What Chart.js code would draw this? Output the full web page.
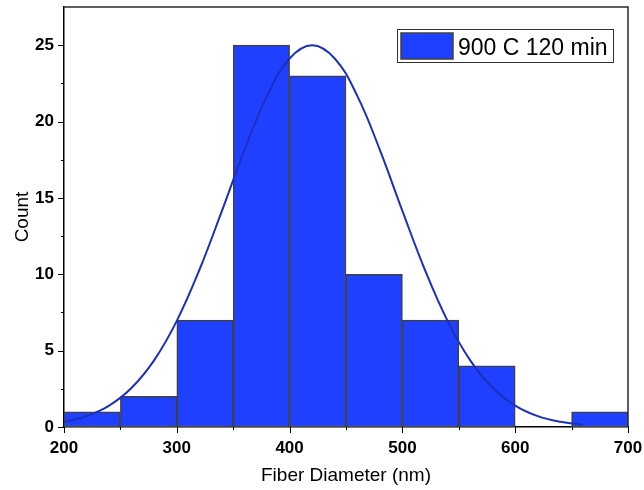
<!DOCTYPE html>
<html>
<head>
<meta charset="utf-8">
<title>Fiber Diameter Histogram</title>
<script src="https://cdn.jsdelivr.net/npm/chart.js@4/dist/chart.umd.min.js"></script>
<style>
  html, body { margin: 0; padding: 0; background: #fff; }
  #c { display: block; }
</style>
</head>
<body>
<canvas id="c" width="644" height="490"></canvas>
<script>
// Histogram bins (centre of each 50 nm bin) and counts
const binCenters = [225, 275, 325, 375, 425, 475, 525, 575, 625, 675];
const binCounts  = [1, 2, 7, 25, 23, 10, 7, 4, 0, 1];

// Normal distribution fit curve, sampled values
const fitX = [200, 220, 240, 260, 280, 300, 320, 340, 360, 380, 400, 420,
              440, 460, 480, 500, 520, 540, 560, 580, 600, 620, 640, 660];
const fitY = [0.34, 0.71, 1.40, 2.57, 4.38, 6.95, 10.28, 14.15, 18.15, 21.68, 24.13, 25.0,
              24.13, 21.68, 18.15, 14.15, 10.28, 6.95, 4.38, 2.57, 1.40, 0.71, 0.34, 0.15];

// Axis tick labels
const xTickValues = [200, 300, 400, 500, 600, 700];
const yTickValues = [0, 5, 10, 15, 20, 25];

const seriesLabel = '900 C 120 min';
const xTitle = 'Fiber Diameter (nm)';
const yTitle = 'Count';

const BAR_FILL = '#2040ff';
const BAR_EDGE = '#404040';
const CURVE = '#1b30bd';
const TICK_FONT = { family: '"Liberation Sans", Arial, sans-serif', size: 17, weight: 'bold' };
const TITLE_FONT = { family: '"Liberation Sans", Arial, sans-serif', size: 19, weight: 'normal' };

// Frame, major/minor tick marks and the in-plot legend
const decorations = {
  id: 'decorations',
  afterDraw(chart) {
    const ctx = chart.ctx;
    const a = chart.chartArea;
    const xs = chart.scales.x, ys = chart.scales.y;
    ctx.save();
    // top & right frame lines
    ctx.strokeStyle = '#2a2a2a';
    ctx.lineWidth = 1.5;
    ctx.beginPath();
    ctx.moveTo(a.left, a.top);
    ctx.lineTo(a.right, a.top);
    ctx.lineTo(a.right, a.bottom);
    ctx.stroke();

    // tick marks
    ctx.strokeStyle = '#000';
    ctx.lineWidth = 1;
    ctx.beginPath();
    for (let v = xs.min; v <= xs.max + 1e-9; v += 50) {
      const px = Math.round(xs.getPixelForValue(v)) + 0.5;
      const len = (Math.round(v) % 100 === 0) ? 6 : 3;
      ctx.moveTo(px, a.bottom);
      ctx.lineTo(px, a.bottom + len);
    }
    for (let v = 0; v <= 25 + 1e-9; v += 2.5) {
      const py = Math.round(ys.getPixelForValue(v)) + 0.5;
      const len = (Math.abs(v % 5) < 1e-9) ? 6 : 3;
      ctx.moveTo(a.left, py);
      ctx.lineTo(a.left - len, py);
    }
    ctx.stroke();

    // legend box
    const lx = a.right - 231, ly = a.top + 22, lw = 216, lh = 33;
    ctx.fillStyle = '#fff';
    ctx.fillRect(lx, ly, lw, lh);
    ctx.strokeStyle = '#333';
    ctx.lineWidth = 1;
    ctx.strokeRect(lx + 0.5, ly + 0.5, lw, lh);
    ctx.fillStyle = BAR_FILL;
    ctx.fillRect(lx + 4, ly + 4, 52, 26);
    ctx.strokeStyle = BAR_EDGE;
    ctx.lineWidth = 1.5;
    ctx.strokeRect(lx + 4, ly + 4, 52, 26);
    ctx.fillStyle = '#000';
    ctx.font = '23px "Liberation Sans", Arial, sans-serif';
    ctx.textBaseline = 'alphabetic';
    ctx.textAlign = 'left';
    ctx.fillText(chart.data.datasets[1].label, lx + 61, ly + 26);
    ctx.restore();
  }
};

new Chart(document.getElementById('c'), {
  type: 'bar',
  data: {
    datasets: [
      {
        type: 'line',
        label: 'Normal fit',
        data: fitX.map((x, i) => ({ x: x, y: fitY[i] })),
        borderColor: CURVE,
        borderWidth: 2,
        pointRadius: 0,
        tension: 0.4,
        fill: false,
        order: 0
      },
      {
        type: 'bar',
        label: seriesLabel,
        data: binCenters.map((x, i) => ({ x: x, y: binCounts[i] })),
        backgroundColor: BAR_FILL,
        borderColor: BAR_EDGE,
        borderWidth: 1.5,
        borderSkipped: false,
        barPercentage: 1.0,
        categoryPercentage: 1.0,
        order: 1
      }
    ]
  },
  options: {
    responsive: false,
    animation: false,
    devicePixelRatio: 1,
    layout: { padding: { top: 7, right: 16, left: 0, bottom: 0 } },
    plugins: {
      legend: { display: false },
      tooltip: { enabled: false }
    },
    scales: {
      x: {
        type: 'linear',
        min: 200,
        max: 700,
        offset: false,
        grid: { display: false, drawTicks: false },
        border: { display: true, color: '#000', width: 1.5 },
        ticks: { color: '#000', font: TICK_FONT, padding: 11, maxRotation: 0, autoSkip: false },
        afterBuildTicks(scale) { scale.ticks = xTickValues.map(v => ({ value: v })); },
        title: { display: true, text: xTitle, color: '#000', font: TITLE_FONT, padding: { top: 4, bottom: 3 } },
        afterFit(scale) {
          scale.height = 63;
          scale.paddingLeft = 0; scale.paddingRight = 0;
        }
      },
      y: {
        min: 0,
        max: 27.5,
        grid: { display: false, drawTicks: false },
        border: { display: true, color: '#000', width: 1.5 },
        ticks: { color: '#000', font: TICK_FONT, padding: 10 },
        afterBuildTicks(scale) { scale.ticks = yTickValues.map(v => ({ value: v })); },
        title: { display: true, text: yTitle, color: '#000', font: TITLE_FONT, padding: { top: 11, bottom: 4 } },
        afterFit(scale) {
          scale.width = 64;
          scale.paddingTop = 0; scale.paddingBottom = 0;
        }
      }
    }
  },
  plugins: [decorations]
});
</script>
</body>
</html>
